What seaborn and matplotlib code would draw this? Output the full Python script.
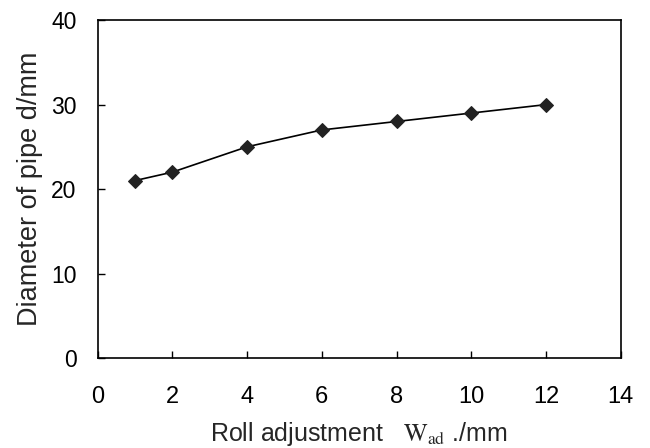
import matplotlib
matplotlib.use("Agg")
import matplotlib.pyplot as plt
import seaborn as sns
import pandas as pd

roll_adjustment = [1, 2, 4, 6, 8, 10, 12]
pipe_diameter = [21, 22, 25, 27, 28, 29, 30]
x_ticks = [0, 2, 4, 6, 8, 10, 12, 14]
y_ticks = [0, 10, 20, 30, 40]

sns.set_theme(style="white")
plt.rcParams['font.family'] = ['Liberation Sans', 'DejaVu Sans']
plt.rcParams['mathtext.fontset'] = 'stix'

df = pd.DataFrame({"x": roll_adjustment, "y": pipe_diameter})

fig = plt.figure(figsize=(6.5, 4.48), dpi=100)
ax = fig.add_axes([0.150, 0.201, 0.805, 0.754])
sns.lineplot(data=df, x="x", y="y", ax=ax, color="black", linewidth=1.2,
             marker="D", markersize=7, markerfacecolor="#222222",
             markeredgecolor="#222222")

ax.set_xlim(0, 14)
ax.set_ylim(0, 40)
ax.set_xticks(x_ticks)
ax.set_yticks(y_ticks)
ax.tick_params(axis="both", direction="in", length=5, width=1, colors="black",
               bottom=True, left=True, top=False, right=False)
ax.tick_params(axis="x", labelsize=17, pad=20)
ax.tick_params(axis="y", labelsize=16.5, pad=15)
for s in ax.spines.values():
    s.set_color("black")
    s.set_linewidth(1.2)

ax.set_xlabel(r"Roll adjustment   $\mathrm{W}_{\mathrm{ad}}$ ./mm", fontsize=18, labelpad=9)
ax.set_ylabel("Diameter of pipe d/mm", fontsize=19.5, labelpad=6)

fig.savefig("out.png", dpi=100, facecolor="white")
